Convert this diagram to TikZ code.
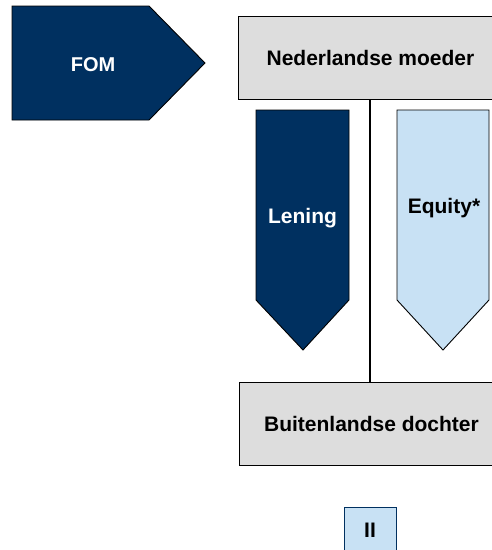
\documentclass[tikz,border=0pt]{standalone}
\usepackage{fontspec}
\setmainfont{Liberation Sans}
\definecolor{navy}{RGB}{0,48,96}
\definecolor{lblue}{RGB}{200,225,244}
\definecolor{lgray}{RGB}{221,221,221}
\begin{document}
\begin{tikzpicture}[x=1pt,y=-1pt,
  lbl/.style={font=\fontsize{21}{24}\selectfont\bfseries, inner sep=0pt, anchor=base},
  box/.style={draw=black, line width=0.9pt, fill=lgray, minimum width=265pt, minimum height=83pt, inner sep=0pt, font=\fontsize{21}{24}\selectfont\bfseries},
  darkarrow/.style={draw=black, line width=0.9pt, fill=navy},
  lightarrow/.style={draw=black, line width=0.9pt, fill=lblue}]
\useasboundingbox (0,0) rectangle (492,550);
\clip (0,0) rectangle (492,550);
% FOM pentagon arrow
\draw[darkarrow] (12,6) -- (149,6) -- (205,63) -- (149,120) -- (12,120) -- cycle;
\node[lbl, text=white, font=\fontsize{20}{24}\selectfont\bfseries] (fom) at (93,71) {FOM};
% boxes
\node[box] (moeder) at (370.5,58) {Nederlandse moeder};
\node[box] (dochter) at (371.5,424) {Buitenlandse dochter};
% vertical connector
\draw[line width=1.8pt] (370,58 |- moeder.south) -- (370,0 |- dochter.north);
% Lening arrow
\draw[darkarrow] (256,110) -- (349,110) -- (349,300) -- (303,350) -- (256,300) -- cycle;
\node[lbl, text=white] (lening) at (302.5,223) {Lening};
% Equity arrow
\draw[lightarrow] (397,110) -- (489,110) -- (489,300) -- (443,350) -- (397,300) -- cycle;
\node[lbl, text=black] (equity) at (444,213) {Equity*};
% II box
\draw[draw=navy, line width=1pt, fill=lblue] (344,507) rectangle (396,560);
\node[lbl, text=black] (ii) at (370,537) {II};
\end{tikzpicture}
\end{document}
